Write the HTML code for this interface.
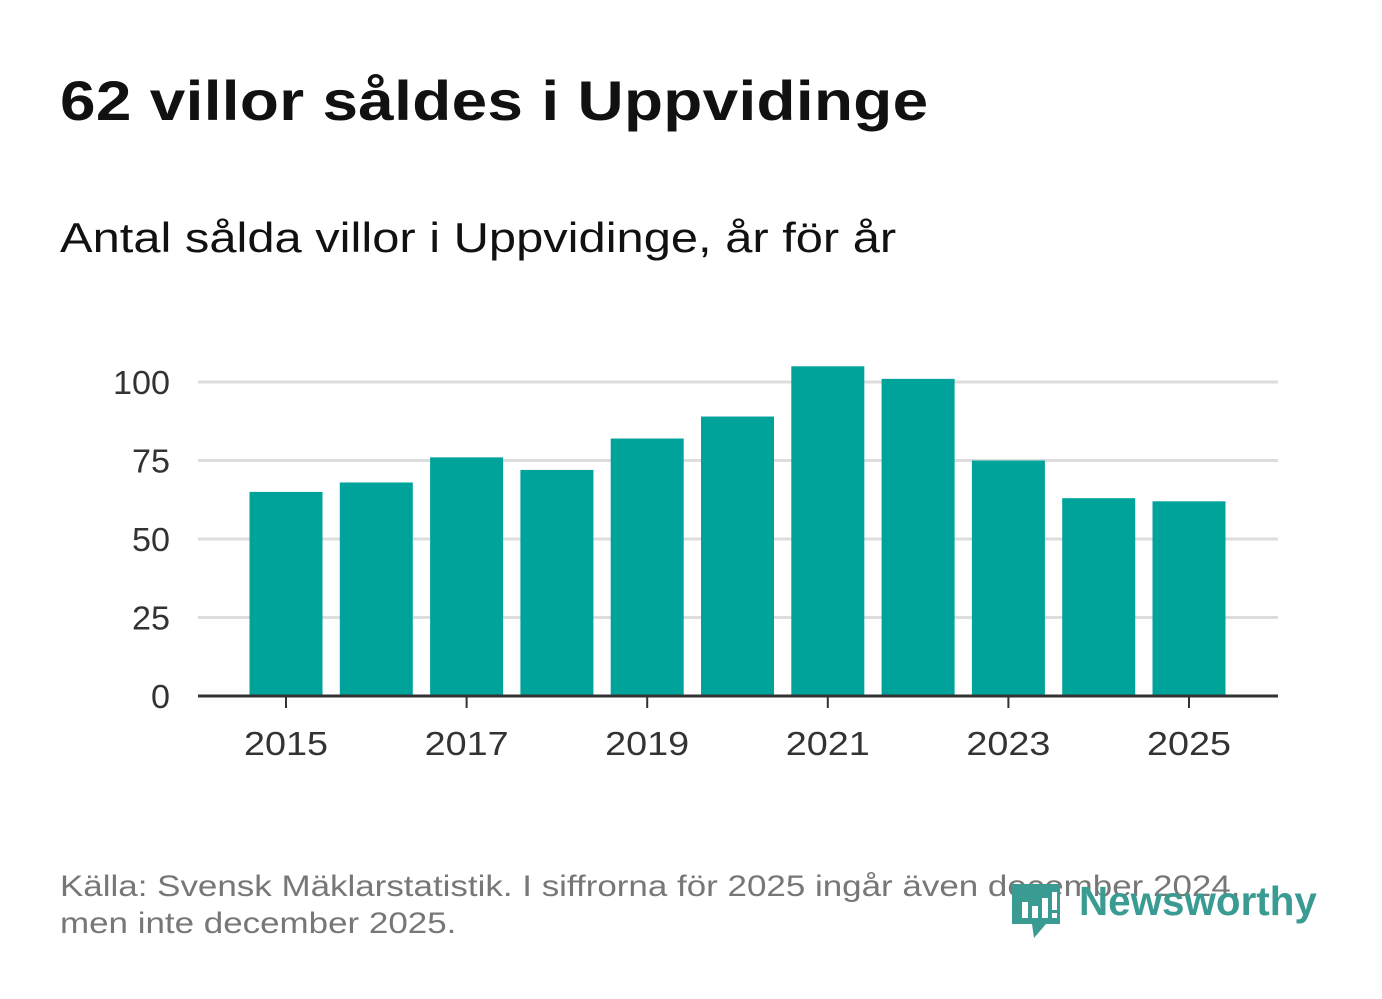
<!DOCTYPE html>
<html><head><meta charset="utf-8"><style>
body{margin:0;background:#fff;width:1382px;height:999px;overflow:hidden;font-family:"Liberation Sans",sans-serif;position:relative}
.t{position:absolute;left:60px;top:68px;font-size:56px;font-weight:bold;color:#111;white-space:nowrap;letter-spacing:0.3px;transform-origin:0 0;transform:scaleX(1.14)}
.s{position:absolute;left:60px;top:214px;font-size:42px;color:#111;white-space:nowrap;transform-origin:0 0;transform:scaleX(1.163)}
.f{position:absolute;left:60px;top:868px;font-size:30px;color:#777;line-height:37px;white-space:nowrap;transform-origin:0 0;transform:scaleX(1.165)}
</style></head><body>
<div class="t">62 villor såldes i Uppvidinge</div>
<div class="s">Antal sålda villor i Uppvidinge, år för år</div>
<svg id="c" width="1382" height="999" style="position:absolute;left:0;top:0"></svg>
<div class="f">Källa: Svensk Mäklarstatistik. I siffrorna för 2025 ingår även december 2024,<br>men inte december 2025.</div>
<svg width="60" height="62" style="position:absolute;left:1010px;top:878px">
<path d="M2 6 H50 V46 H36 L24 60 L22 46 H2 Z" fill="#3a9b93"/>
<rect x="12" y="24" width="6" height="16" fill="#fff"/><rect x="22" y="28" width="6" height="12" fill="#fff"/><rect x="32" y="20" width="6" height="20" fill="#fff"/><rect x="42" y="14" width="5" height="18" fill="#fff"/><rect x="42" y="35" width="5" height="5" fill="#fff"/>
</svg>
<div style="position:absolute;left:1079px;top:878px;font-size:41px;font-weight:bold;color:#3a9b93;transform-origin:0 0;transform:scaleX(0.985)">Newsworthy</div>
<script>
const years=[2015,2016,2017,2018,2019,2020,2021,2022,2023,2024,2025];
const values=[65,68,76,72,82,89,105,101,75,63,62];
const yTicks=[0,25,50,75,100];
const xTickLabels=[2015,2017,2019,2021,2023,2025];
const svg=document.getElementById('c');
const NS='http://www.w3.org/2000/svg';
const y=v=>696-v*3.14;
const x=yr=>286+(yr-2015)*90.3;
function mk(t,a){const e=document.createElementNS(NS,t);for(const k in a)e.setAttribute(k,a[k]);svg.appendChild(e);return e;}
yTicks.forEach(v=>{
 if(v>0){const g=mk('line',{x1:198,x2:1278,y1:y(v),y2:y(v),stroke:'#ddd','stroke-width':3});
 
 }
 const t=mk('text',{x:170,y:y(v)+12,'text-anchor':'end','font-size':33,fill:'#333','font-family':'Liberation Sans',textLength:String(v).length*19,lengthAdjust:'spacingAndGlyphs'});
 t.textContent=v;
 
 
});
years.forEach((yr,i)=>{
 const r=mk('rect',{x:x(yr)-36.5,y:y(values[i]),width:73,height:696-y(values[i]),fill:'#00a39a'});
 
 
});
const ax=mk('line',{x1:198,x2:1278,y1:696,y2:696,stroke:'#333','stroke-width':3});


xTickLabels.forEach(yr=>{
 const tk=mk('line',{x1:x(yr),x2:x(yr),y1:696,y2:708,stroke:'#333','stroke-width':2});
 
 
 const t=mk('text',{x:x(yr)-42,y:755,'font-size':33,fill:'#333','font-family':'Liberation Sans',textLength:84,lengthAdjust:'spacingAndGlyphs'});
 t.textContent=yr;
 
 
});
</script>
</body></html>
